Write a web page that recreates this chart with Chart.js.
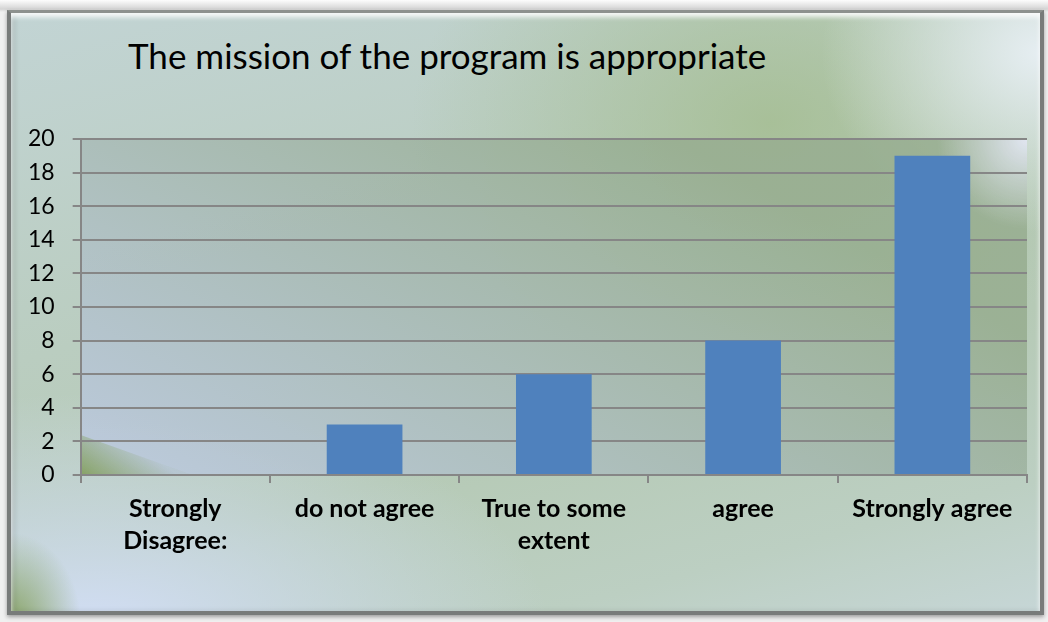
<!DOCTYPE html>
<html>
<head>
<meta charset="utf-8">
<script src="https://cdn.jsdelivr.net/npm/chart.js@4/dist/chart.umd.min.js"></script>
<style>
  html, body { margin: 0; padding: 0; background: #f2f2f2; }
  #wrap { position: relative; width: 1048px; height: 622px; overflow: hidden;
    background: linear-gradient(#fdfdfd, #d4d4d4 9px, #f0f0f0 12px); }
  #frame { position: absolute; left: 7px; top: 10px; width: 1029px; height: 598px;
    border: 4px solid #787b7a; border-top: 3px solid #8d918e;
    box-shadow: inset 0 4px 5px rgba(255,255,255,0.9), inset 4px 0 5px rgba(0,0,0,0.12), 0 2px 4px rgba(0,0,0,0.35);
    background:
      radial-gradient(ellipse 220px 180px at 1030px 40px, rgba(230,238,242,1), rgba(230,238,242,0) 100%),
      radial-gradient(ellipse 70px 90px at 0px 610px, rgba(125,155,80,0.85), rgba(125,155,80,0) 100%),
      radial-gradient(ellipse 460px 240px at 80px 620px, rgba(210,222,246,1), rgba(210,222,246,0) 100%),
      radial-gradient(ellipse 360px 260px at 760px 110px, rgba(163,188,142,0.8), rgba(163,188,142,0) 100%),
      linear-gradient(165deg, #c2d4d4 0%, #bacdc0 40%, #b6cab6 65%, #bccfc2 85%, #c6d6d6 100%); }
  #title { position: absolute; left: 128px; top: 34px; line-height: 1; font: 35px Lato, "Open Sans", sans-serif; color: #000; white-space: nowrap; }
  canvas { position: absolute; left: 0; top: 0; }
</style>
</head>
<body>
<div id="wrap">
  <div id="frame"></div>
  <div id="title">The mission of the program is appropriate</div>
  <canvas id="c" width="1048" height="622"></canvas>
</div>
<script>
// answers per category
const categories = [['Strongly', 'Disagree:'], 'do not agree', ['True to some', 'extent'], 'agree', 'Strongly agree'];
const counts = [0, 3, 6, 8, 19];
const yMin = 0, yMax = 20, yStep = 2;

const plotShade = {
  id: 'plotShade',
  beforeDraw(chart) {
    const { ctx, chartArea: a } = chart;
    ctx.save();
    const g = ctx.createLinearGradient(a.left + 150, a.bottom + 120, a.left + 450, a.top - 80);
    g.addColorStop(0, 'rgba(190,203,228,0.9)');
    g.addColorStop(1, 'rgba(152,174,145,0.9)');
    ctx.fillStyle = g;
    ctx.fillRect(a.left, a.top, a.right - a.left, a.bottom - a.top);
    // light corner top right
    const r = ctx.createRadialGradient(a.right, a.top, 0, a.right, a.top, 90);
    r.addColorStop(0, 'rgba(228,232,245,0.95)');
    r.addColorStop(1, 'rgba(228,232,245,0)');
    ctx.fillStyle = r;
    ctx.fillRect(a.left, a.top, a.right - a.left, a.bottom - a.top);
    // green wedge in the lower left corner
    const w = ctx.createLinearGradient(a.left, a.bottom, a.left + 30, a.bottom - 45);
    w.addColorStop(0, 'rgba(125,155,80,0.85)');
    w.addColorStop(1, 'rgba(125,155,80,0.05)');
    ctx.fillStyle = w;
    ctx.beginPath();
    ctx.moveTo(a.left, a.bottom);
    ctx.lineTo(a.left, a.bottom - 40);
    ctx.lineTo(a.left + 112, a.bottom);
    ctx.closePath();
    ctx.fill();
    ctx.restore();
  }
};

new Chart(document.getElementById('c'), {
  type: 'bar',
  data: {
    labels: categories,
    datasets: [{ data: counts, backgroundColor: '#4f81bd', borderWidth: 0,
      barPercentage: 0.4, categoryPercentage: 1.0 }]
  },
  options: {
    responsive: false,
    animation: false,
    layout: { padding: { left: 10, right: 21, top: 139, bottom: 55 } },
    plugins: { legend: { display: false }, tooltip: { enabled: false }, title: { display: false } },
    scales: {
      x: {
        grid: { drawOnChartArea: false, drawTicks: true, tickLength: 8, color: '#868686', lineWidth: 2 },
        border: { color: '#868686', width: 2 },
        ticks: { color: '#000', padding: 10, maxRotation: 0,
          font: { family: 'Lato, "Open Sans", sans-serif', size: 25, weight: 'bold', lineHeight: 32 / 25 } }
      },
      y: {
        min: yMin, max: yMax,
        grid: { color: '#868686', lineWidth: 2, tickLength: 8 },
        border: { color: '#868686', width: 2 },
        ticks: { stepSize: yStep, color: '#000', padding: 18,
          font: { family: 'Lato, "Open Sans", sans-serif', size: 23 } }
      }
    }
  },
  plugins: [plotShade]
});
</script>
</body>
</html>
